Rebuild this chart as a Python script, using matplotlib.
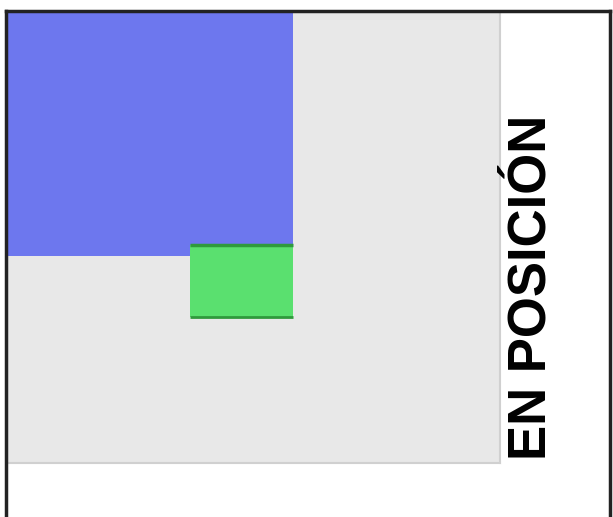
import matplotlib.pyplot as plt
from matplotlib.patches import Rectangle
from matplotlib.lines import Line2D

# zonas del gráfico (unidades de datos 0-100)
zonas = ['azul', 'verde']
x0 = [0, 37]
x1 = [58, 58]
y0 = [46, 32.3]
y1 = [100, 48.3]
colores = ['#6d77ee', '#5ae06f']
bordes = ['#6d77ee', '#2f9a3c']
etiqueta = 'EN POSICIÓN'

fig = plt.figure(figsize=(6.13, 5.17), dpi=100)
ax = fig.add_axes([8 / 613, 54 / 517, 492 / 613, 451 / 517])
ax.set_facecolor('#e8e8e8')
ax.set_xlim(0, 100)
ax.set_ylim(0, 100)
ax.set_xticks([])
ax.set_yticks([])
for lado in ['left', 'top']:
    ax.spines[lado].set_visible(False)
for lado in ['right', 'bottom']:
    ax.spines[lado].set_color('#d0d0d0')
    ax.spines[lado].set_linewidth(1.5)

for i in range(len(zonas)):
    ax.add_patch(Rectangle((x0[i], y0[i]), x1[i] - x0[i], y1[i] - y0[i],
                           facecolor=colores[i], edgecolor='none'))
# sombras oscuras arriba y abajo del verde
ax.plot([x0[1], x1[1]], [y1[1], y1[1]], color=bordes[1], lw=2.5, solid_capstyle='butt')
ax.plot([x0[1], x1[1]], [y0[1], y0[1]], color=bordes[1], lw=2, solid_capstyle='butt')

# marco negro (izquierda, arriba, derecha)
ax_marco = [Line2D([6 / 613, 6 / 613], [0, 1 - 11 / 517]),
            Line2D([6 / 613, 610 / 613], [1 - 11 / 517, 1 - 11 / 517]),
            Line2D([610 / 613, 610 / 613], [0, 1 - 11 / 517])]
for l in ax_marco:
    l.set_transform(fig.transFigure)
    l.set_color('#222222')
    l.set_linewidth(2.5)
    fig.add_artist(l)

fig.text(546 / 613, (517 - 287.5) / 517, etiqueta, rotation=90,
         rotation_mode='anchor', ha='center', va='baseline',
         fontsize=38, fontweight='bold', family='Liberation Sans', color='black')

fig.savefig('out.png', dpi=100)
